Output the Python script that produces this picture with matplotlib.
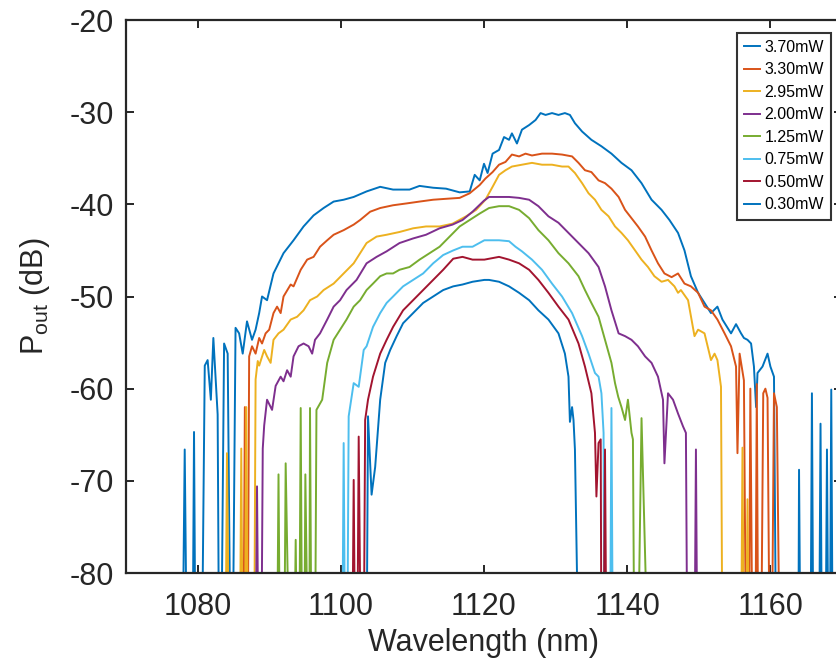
import matplotlib
matplotlib.use("Agg")
import matplotlib.pyplot as plt

plt.rcParams['font.family'] = ['Liberation Sans', 'DejaVu Sans']
plt.rcParams['axes.unicode_minus'] = False

labels = ["3.70mW", "3.30mW", "2.95mW", "2.00mW", "1.25mW", "0.75mW", "0.50mW", "0.30mW"]
colors = ["#0072BD", "#D95319", "#EDB120", "#7E2F8E", "#77AC30", "#4DBEEE", "#A2142F", "#0072BD"]

wl_370 = [1077.9, 1078.2, 1078.5, 1079.3, 1079.5, 1079.7, 1080.6, 1081.0, 1081.4, 1081.85, 1082.2, 1082.8,
          1083.0, 1083.3, 1083.7, 1084.2, 1084.6, 1084.9, 1085.3, 1085.8, 1086.3, 1086.9, 1087.6, 1088.1,
          1088.6, 1089.0, 1089.7, 1090.6, 1092.0, 1093.4, 1094.8, 1096.2, 1097.6, 1099.0, 1100.4, 1101.8,
          1103.6, 1105.5, 1107.3, 1109.6, 1111.0, 1112.9, 1114.7, 1116.6, 1118.0, 1118.7, 1119.4, 1120.0,
          1120.5, 1121.2, 1122.1, 1122.8, 1123.5, 1123.9, 1124.6, 1125.3, 1126.3, 1127.2, 1127.9, 1128.6,
          1129.5, 1130.4, 1131.3, 1132.0, 1132.7, 1133.7, 1135.0, 1136.4, 1137.8, 1139.2, 1140.6, 1142.0,
          1143.4, 1144.8, 1145.9, 1147.1, 1148.0, 1148.9, 1149.9, 1150.8, 1151.7, 1152.6, 1153.3, 1154.5,
          1155.2, 1155.9, 1156.3, 1156.8, 1157.3, 1157.7, 1158.0, 1158.2, 1158.9, 1159.6, 1160.0, 1160.5,
          1160.8, 1163.9, 1164.0, 1164.2, 1165.6, 1165.8, 1166.0, 1166.8, 1167.0, 1167.2, 1167.7, 1167.9,
          1168.1, 1168.3, 1168.5, 1168.7]
db_370 = [-90, -66.6, -90, -90, -64.7, -90, -90, -57.5, -56.9, -61.2, -54.5, -62.8,
          -90, -90, -55.1, -56.2, -90, -90, -53.4, -54.0, -56.2, -52.7, -54.7, -53.6,
          -51.8, -50.0, -50.4, -47.5, -45.3, -43.9, -42.4, -41.2, -40.4, -39.7, -39.5, -39.2,
          -38.6, -38.1, -38.4, -38.4, -38.0, -38.2, -38.3, -38.7, -38.6, -36.8, -37.4, -35.6,
          -36.6, -34.5, -34.1, -32.7, -33.0, -32.3, -33.4, -31.9, -31.4, -30.85, -30.1, -30.3,
          -30.1, -30.3, -30.1, -30.3, -31.2, -32.1, -33.0, -33.7, -34.5, -35.5, -36.3, -37.7,
          -39.5, -40.6, -41.7, -43.1, -45.0, -47.8, -49.6, -50.7, -51.8, -51.1, -52.5, -54.0,
          -53.0, -54.0, -54.5, -54.7, -55.1, -57.6, -62.0, -58.3, -57.6, -56.2, -57.6, -58.7,
          -90, -90, -68.8, -90, -90, -60.5, -90, -90, -63.8, -90, -90, -66.6,
          -90, -90, -60.1, -90]

wl_330 = [1086.4, 1086.6, 1086.8, 1087.0, 1087.2, 1087.6, 1088.1, 1088.6, 1089.0, 1089.5, 1090.0, 1090.6,
          1091.1, 1091.6, 1092.0, 1093.0, 1093.4, 1094.4, 1095.3, 1096.2, 1097.1, 1098.1, 1099.0, 1100.4,
          1101.8, 1102.7, 1104.1, 1105.5, 1107.3, 1109.2, 1111.0, 1112.9, 1114.7, 1116.6, 1118.0, 1119.4,
          1120.2, 1121.2, 1122.1, 1123.0, 1123.9, 1124.9, 1125.8, 1126.7, 1128.1, 1129.5, 1130.9, 1132.3,
          1133.2, 1134.1, 1135.0, 1136.0, 1136.9, 1137.8, 1138.8, 1139.7, 1140.6, 1141.5, 1142.5, 1143.4,
          1144.3, 1145.2, 1146.2, 1147.1, 1148.0, 1148.9, 1149.9, 1150.8, 1151.7, 1152.6, 1153.6, 1154.5,
          1155.2, 1155.4, 1155.7, 1156.3, 1156.6, 1157.0, 1157.2, 1157.5, 1157.9, 1158.1, 1158.3, 1158.7,
          1159.0, 1159.3, 1159.6, 1159.9, 1160.2, 1160.5, 1160.9, 1161.3]
db_330 = [-90, -62.0, -90, -90, -56.5, -55.4, -56.2, -54.5, -55.1, -54.0, -53.6, -51.8,
          -51.1, -51.8, -50.0, -48.7, -48.9, -47.1, -46.0, -45.7, -44.6, -43.9, -43.3, -42.8,
          -42.2, -41.7, -40.8, -40.4, -40.1, -39.9, -39.7, -39.5, -39.4, -39.3, -38.8, -37.9,
          -37.2, -36.5, -35.7, -35.4, -34.6, -34.8, -34.5, -34.7, -34.5, -34.5, -34.6, -34.8,
          -35.5, -36.3, -36.5, -37.4, -37.7, -38.3, -39.2, -40.6, -41.5, -42.4, -43.5, -45.0,
          -46.4, -47.5, -47.9, -47.5, -48.6, -48.9, -49.6, -51.1, -51.5, -52.5, -54.0, -55.4,
          -57.6, -67.0, -56.2, -59.1, -90, -90, -60.0, -90, -90, -59.5, -90, -90,
          -60.5, -60.0, -61.0, -90, -90, -60.5, -62.0, -90]

wl_295 = [1083.9, 1084.1, 1084.4, 1085.9, 1086.1, 1086.3, 1086.6, 1086.8, 1087.0, 1087.9, 1088.1, 1088.4,
          1088.6, 1089.3, 1089.7, 1090.2, 1090.6, 1091.3, 1092.0, 1093.0, 1093.9, 1094.8, 1095.7, 1096.7,
          1097.6, 1099.0, 1100.4, 1101.8, 1102.7, 1103.6, 1105.0, 1106.4, 1108.2, 1110.1, 1111.9, 1113.8,
          1115.6, 1117.5, 1118.9, 1120.2, 1121.2, 1122.1, 1123.0, 1123.9, 1125.3, 1126.7, 1128.1, 1129.5,
          1130.9, 1131.8, 1132.7, 1133.7, 1134.6, 1135.5, 1136.4, 1137.4, 1138.3, 1139.2, 1140.1, 1141.1,
          1142.0, 1142.9, 1143.8, 1144.8, 1145.7, 1146.6, 1147.1, 1147.5, 1148.5, 1149.4, 1149.9, 1150.8,
          1151.7, 1152.2, 1152.6, 1153.1, 1153.3, 1155.9, 1156.1, 1156.3, 1156.6, 1156.8, 1157.0]
db_295 = [-90, -67.0, -90, -90, -66.5, -90, -90, -62.0, -90, -90, -59.0, -57.0,
          -57.5, -55.8, -56.5, -57.2, -54.7, -54.0, -53.6, -52.5, -52.2, -51.5, -50.4, -50.0,
          -49.3, -48.6, -47.5, -46.4, -45.3, -44.2, -43.5, -43.3, -43.0, -42.6, -42.4, -42.4,
          -42.1, -41.3, -40.6, -39.5, -38.1, -36.8, -36.3, -35.9, -35.7, -35.5, -35.7, -35.7,
          -35.9, -35.9, -36.6, -37.7, -38.8, -39.5, -40.6, -41.3, -42.4, -43.1, -43.9, -45.0,
          -46.0, -46.8, -47.8, -48.4, -48.2, -48.9, -49.6, -49.3, -50.4, -54.3, -53.6, -54.0,
          -56.9, -56.2, -56.9, -59.8, -90, -90, -66.4, -90, -90, -72.0, -90]

wl_200 = [1088.1, 1088.3, 1088.5, 1088.9, 1089.1, 1089.3, 1089.7, 1090.4, 1090.9, 1091.6, 1092.0, 1092.5,
          1093.0, 1093.4, 1094.1, 1094.8, 1095.5, 1096.0, 1096.4, 1097.1, 1098.1, 1099.0, 1099.9, 1100.8,
          1102.2, 1103.6, 1105.0, 1106.4, 1108.2, 1110.1, 1111.9, 1113.8, 1115.6, 1117.0, 1118.4, 1120.0,
          1120.7, 1122.1, 1123.5, 1124.9, 1126.3, 1127.6, 1129.0, 1130.4, 1131.8, 1133.2, 1134.6, 1136.0,
          1136.9, 1137.8, 1138.8, 1139.7, 1140.6, 1141.5, 1142.5, 1143.4, 1144.3, 1145.0, 1145.2, 1145.7,
          1146.4, 1147.1, 1147.8, 1148.2, 1148.4, 1149.4, 1149.6, 1149.8]
db_200 = [-90, -70.6, -90, -90, -66.5, -64.0, -61.2, -62.3, -59.7, -58.7, -59.2, -58.0,
          -58.7, -56.5, -55.4, -55.1, -55.4, -56.2, -54.7, -54.0, -52.5, -51.1, -50.4, -49.3,
          -48.2, -46.4, -45.7, -45.1, -44.2, -43.7, -43.3, -42.6, -42.2, -41.7, -40.8, -39.6,
          -39.2, -39.2, -39.2, -39.3, -39.5, -40.2, -41.3, -42.0, -43.1, -44.2, -45.3, -46.8,
          -48.9, -51.5, -54.0, -54.3, -54.7, -55.4, -56.5, -57.2, -58.7, -61.2, -68.1, -60.5,
          -61.2, -62.7, -64.1, -64.8, -90, -90, -66.6, -90]

wl_125 = [1091.1, 1091.3, 1091.5, 1092.1, 1092.3, 1092.8, 1093.5, 1093.7, 1093.9, 1094.2, 1094.4, 1094.6,
          1094.9, 1095.05, 1095.4, 1095.6, 1095.7, 1095.9, 1096.4, 1096.6, 1097.4, 1098.1, 1099.0, 1099.9,
          1100.8, 1101.8, 1102.7, 1103.6, 1104.5, 1105.5, 1106.4, 1107.3, 1108.2, 1109.6, 1111.0, 1112.4,
          1113.8, 1115.2, 1116.6, 1118.0, 1119.4, 1120.7, 1122.1, 1123.5, 1124.9, 1126.3, 1127.6, 1129.0,
          1130.4, 1131.8, 1133.2, 1134.1, 1135.0, 1136.0, 1136.9, 1137.8, 1138.3, 1138.75, 1139.2, 1139.7,
          1140.1, 1140.6, 1140.8, 1141.0, 1141.5, 1142.0, 1142.9]
db_125 = [-90, -69.3, -90, -90, -68.1, -90, -90, -76.4, -90, -90, -62.1, -90,
          -90, -69.3, -90, -90, -62.1, -90, -90, -62.3, -61.2, -57.2, -54.7, -53.6,
          -52.5, -51.1, -50.4, -49.3, -48.6, -47.8, -47.5, -47.5, -47.1, -46.8, -46.0, -45.3,
          -44.6, -43.5, -42.4, -41.7, -41.0, -40.4, -40.2, -40.2, -40.6, -41.5, -42.8, -43.9,
          -45.3, -46.4, -47.8, -49.3, -50.7, -52.2, -54.7, -57.2, -59.4, -60.9, -62.0, -63.4,
          -61.2, -64.8, -65.5, -90, -90, -63.2, -90]

wl_075 = [1100.2, 1100.4, 1100.6, 1100.9, 1101.1, 1101.8, 1102.5, 1103.2, 1103.6, 1104.5, 1105.5, 1106.4,
          1107.3, 1108.7, 1110.1, 1111.5, 1112.9, 1114.3, 1115.7, 1117.0, 1118.4, 1120.05, 1120.7, 1122.1,
          1123.5, 1124.4, 1125.3, 1126.7, 1128.1, 1129.5, 1130.9, 1132.3, 1133.7, 1134.6, 1135.5, 1136.0,
          1136.4, 1136.7, 1136.8, 1137.6, 1137.8, 1138.0]
db_075 = [-90, -65.9, -90, -90, -63.0, -59.4, -59.8, -55.8, -55.4, -53.3, -51.8, -50.7,
          -50.0, -48.9, -48.2, -47.5, -46.4, -45.5, -45.0, -44.6, -44.6, -43.9, -43.9, -43.9,
          -44.0, -44.6, -45.1, -46.0, -47.1, -48.6, -50.0, -51.8, -54.3, -56.2, -58.3, -58.7,
          -60.5, -64.8, -90, -90, -62.1, -90]

wl_050 = [1101.6, 1101.8, 1102.0, 1102.3, 1102.5, 1102.8, 1103.2, 1103.4, 1103.8, 1104.5, 1105.5, 1106.4,
          1107.3, 1108.7, 1110.1, 1111.5, 1112.9, 1114.3, 1115.7, 1117.0, 1118.4, 1120.05, 1122.1, 1123.5,
          1124.9, 1126.3, 1127.6, 1129.0, 1130.4, 1131.8, 1133.2, 1134.1, 1135.0, 1135.5, 1135.7, 1136.0,
          1136.3, 1136.4, 1136.7, 1136.9, 1137.1]
db_050 = [-90, -69.9, -90, -90, -65.2, -90, -90, -63.4, -61.2, -58.7, -56.2, -54.7,
          -53.3, -51.5, -50.4, -49.3, -48.2, -47.1, -45.9, -45.7, -46.0, -46.0, -45.7, -46.0,
          -46.4, -47.1, -48.2, -49.6, -51.1, -52.5, -55.1, -57.6, -60.5, -64.8, -71.7, -65.9,
          -65.5, -90, -90, -66.6, -90]

wl_030 = [1103.6, 1103.8, 1104.3, 1104.8, 1105.5, 1106.2, 1106.9, 1107.8, 1108.7, 1110.1, 1111.5, 1112.9,
          1114.3, 1115.7, 1117.0, 1118.4, 1120.05, 1120.7, 1122.1, 1123.5, 1124.9, 1126.3, 1127.6, 1129.0,
          1130.4, 1131.3, 1131.8, 1132.0, 1132.3, 1132.5, 1132.7, 1133.2]
db_030 = [-90, -63.0, -71.5, -68.5, -61.2, -57.2, -55.8, -54.3, -52.9, -51.8, -50.7, -50.0,
          -49.3, -48.9, -48.7, -48.4, -48.2, -48.2, -48.4, -48.9, -49.6, -50.4, -51.5, -52.5,
          -54.0, -56.2, -58.7, -63.6, -62.0, -63.4, -66.6, -90]

series = [(wl_370, db_370), (wl_330, db_330), (wl_295, db_295), (wl_200, db_200),
          (wl_125, db_125), (wl_075, db_075), (wl_050, db_050), (wl_030, db_030)]

xticks = [1080, 1100, 1120, 1140, 1160]
yticks = [-80, -70, -60, -50, -40, -30, -20]

W, H = 836, 662
fig = plt.figure(figsize=(W / 100, H / 100), dpi=100)
ax = fig.add_axes([126 / W, 1 - 573 / H, (842 - 126) / W, (573 - 20) / H])

for (x, y), c, lab in zip(series, colors, labels):
    ax.plot(x, y, color=c, lw=1.4, label=lab)

ax.set_xlim(1070, 1170)
ax.set_ylim(-80, -20)
ax.set_xticks(xticks)
ax.set_yticks(yticks)
ax.tick_params(direction='in', length=6, width=1.4, top=True, right=True,
               labelsize=22, colors='#262626')
ax.tick_params(axis='y', pad=9)
ax.tick_params(axis='x', pad=14)
for s in ax.spines.values():
    s.set_linewidth(1.6)
    s.set_color('#262626')

ax.set_xlabel('Wavelength (nm)', fontsize=22, color='#262626', labelpad=4)
ax.set_ylabel(r'$\mathregular{P_{out}}$ (dB)', fontsize=22, color='#262626', labelpad=12)

leg = ax.legend(loc='upper right', bbox_to_anchor=(0.985, 0.977), borderaxespad=0,
                fontsize=11.5, handlelength=1.0, handletextpad=0.3, labelspacing=0.47,
                borderpad=0.45, fancybox=False, frameon=True)
leg.get_frame().set_edgecolor('black')
leg.get_frame().set_linewidth(1.5)

fig.savefig('out.png', dpi=100)
